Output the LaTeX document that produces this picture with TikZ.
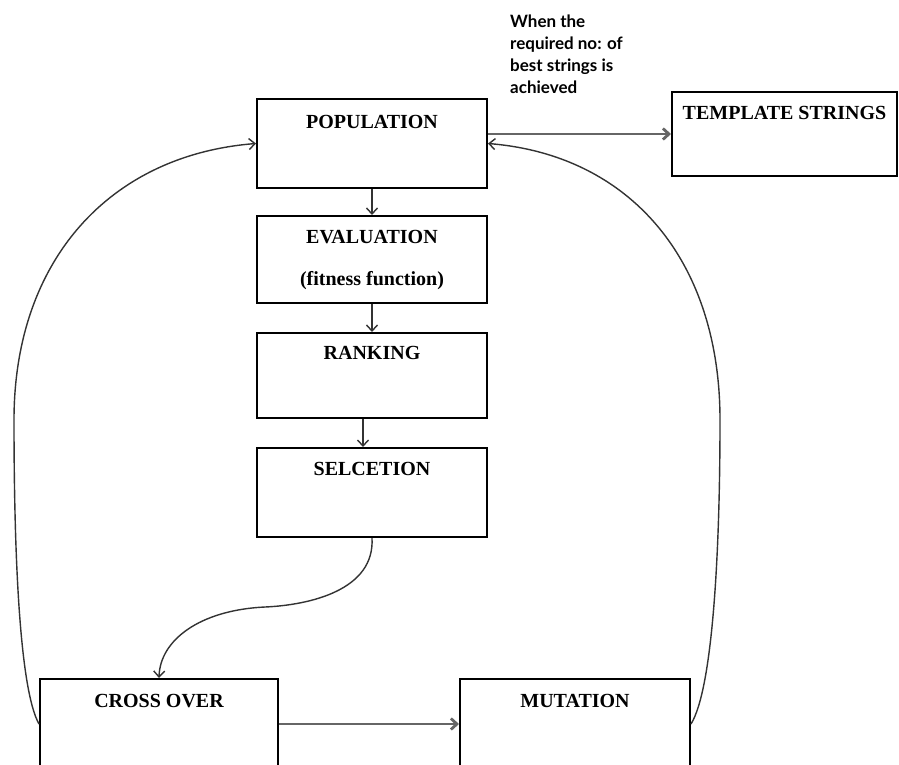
\documentclass[tikz,border=0pt]{standalone}
\usepackage{fontspec}
\setmainfont{Liberation Serif}
\newfontfamily\notefont{Lato}
\usepackage{xcolor}
\usetikzlibrary{arrows.meta}

\begin{document}
\begin{tikzpicture}[
    x=1pt, y=-1pt,
    box/.style={rectangle, draw=black, line width=2pt, minimum width=230pt, inner xsep=0pt, inner ysep=4pt, anchor=north, align=center, font=\fontsize{20}{22}\selectfont\bfseries},
    note/.style={inner sep=0pt, anchor=north west, align=left, font=\notefont\fontsize{17}{22}\selectfont\bfseries},
    arrow/.style={-{Straight Barb[length=6pt, width=11pt]}, line width=1.4pt, draw=black!80},
    widearrow/.style={arrow, line width=2.8pt, draw=black!60}
]
    \useasboundingbox (0,0) rectangle (899,764);

    % Nodes
    \node[box, text height=25pt, text depth=56pt] (popbox) at (372,98) {POPULATION};
    \node[box, minimum height=87pt, inner ysep=0pt] (evalbox) at (372,215) {EVALUATION\\[20pt](fitness function)};
    \node[box, text height=22pt, text depth=55pt] (rankbox) at (372,332) {RANKING};
    \node[box, text height=23pt, text depth=58pt] (selbox) at (372,447) {SELCETION};
    \node[box, minimum width=225pt, text height=23pt, text depth=53pt] (tmplbox) at (784.5,91) {TEMPLATE STRINGS};
    \node[box, minimum width=238pt, text height=24pt, text depth=80pt] (crossbox) at (159,678) {CROSS OVER};
    \node[box, text height=24pt, text depth=80pt] (mutbox) at (575,678) {MUTATION};
    \node[note] (stopnote) at (510,15) {When the\\required no: of\\best strings is\\achieved};

    % Arrows
    \draw[arrow] (popbox) -- (evalbox);
    \draw[arrow] (evalbox) -- (rankbox);
    \draw[arrow] ([xshift=-9pt]rankbox.south) -- ([xshift=-9pt]selbox.north);
    \draw[widearrow] (popbox.east |- tmplbox.west) -- (tmplbox.west);
    \draw[arrow] (selbox.south) .. controls (375,590) and (310,605) .. (265,607)
        .. controls (200,610) and (160,640) .. (crossbox.north);
    \draw[widearrow] ([yshift=11pt]crossbox.east) -- ([yshift=11pt]mutbox.west);
    \draw[arrow] ([yshift=11pt]crossbox.west) .. controls (20,690) and (14,560) .. (14,420)
        .. controls (14,260) and (110,155) .. (popbox.west);
    \draw[arrow] ([yshift=11pt]mutbox.east) .. controls (712,690) and (720,560) .. (720,420)
        .. controls (720,260) and (630,155) .. (popbox.east);
\end{tikzpicture}
\end{document}
